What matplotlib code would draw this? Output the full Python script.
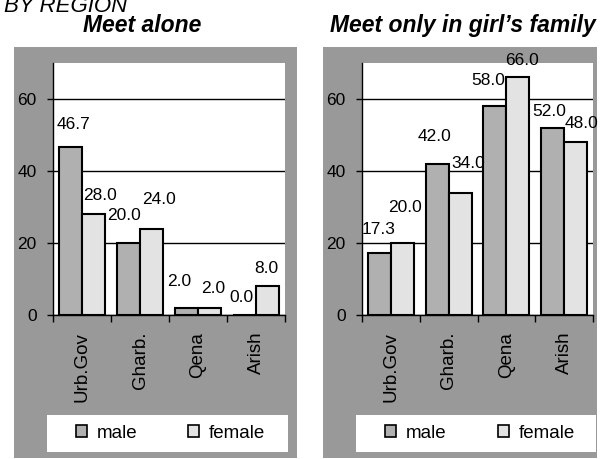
import matplotlib
matplotlib.use("Agg")
import matplotlib.pyplot as plt
from matplotlib.patches import Rectangle
import numpy as np

plt.rcParams['font.family'] = ['Liberation Sans', 'DejaVu Sans']

# Data
regions = ["Urb.Gov", "Gharb.", "Qena", "Arish"]
alone_male = [46.7, 20.0, 2.0, 0.0]
alone_female = [28.0, 24.0, 2.0, 8.0]
family_male = [17.3, 42.0, 58.0, 52.0]
family_female = [20.0, 34.0, 66.0, 48.0]
titles = ["Meet alone", "Meet only in girl\u2019s family"]
series_names = ["male", "female"]
yticks = [0, 20, 40, 60]

# label nudges (px) relative to the centre of each bar top, as drawn in the reference
alone_nudge_male = [(3, 22), (-4, 27), (-7, 26), (-3, 18)]
alone_nudge_female = [(6, 19), (7, 29), (4, 19), (-1, 18)]
family_nudge_male = [(-1, 23), (-3, 27), (-7, 26), (-3, 16)]
family_nudge_female = [(3, 36), (8, 29), (4, 17), (6, 19)]

W, H = 601, 459
MALE_C = "#b0b0b0"
FEMALE_C = "#e3e3e3"
PANEL_C = "#999999"

fig = plt.figure(figsize=(W / 100, H / 100), dpi=100)
fig.patch.set_facecolor("white")


def px_rect(x0, y0, x1, y1):
    # pixel box (top-left origin) -> figure fraction [l, b, w, h]
    return [x0 / W, 1 - y1 / H, (x1 - x0) / W, (y1 - y0) / H]


def px_box(x0, y0, x1, y1, color, z):
    l, b, w, h = px_rect(x0, y0, x1, y1)
    fig.patches.append(Rectangle((l, b), w, h, transform=fig.transFigure,
                                 facecolor=color, edgecolor="none", zorder=z))


# header partially cropped at top
fig.text(127 / W, 1 - 12 / H, "BY REGION", ha="right", va="baseline",
         fontsize=16, style="italic")

panels = [
    dict(bg=(14, 47, 297, 458), ax=(53, 63, 285, 315), leg=(47, 415, 288, 452),
         leg_c=170.5, title_x=142, male=alone_male, female=alone_female,
         nm=alone_nudge_male, nf=alone_nudge_female),
    dict(bg=(323, 47, 597, 458), ax=(362, 63, 593, 315), leg=(356, 415, 596, 452),
         leg_c=480, title_x=463, male=family_male, female=family_female,
         nm=family_nudge_male, nf=family_nudge_female),
]

for p, title in zip(panels, titles):
    px_box(*p["bg"], PANEL_C, -5)
    px_box(*p["leg"], "white", -4)
    fig.text(p["title_x"] / W, 1 - 32 / H, title, ha="center", va="baseline",
             fontsize=16.5, fontweight="bold", style="italic")

    ax = fig.add_axes(px_rect(*p["ax"]))
    ax.set_zorder(1)
    ax.set_facecolor("white")
    x = np.arange(len(regions))
    bw = 0.4
    bm = ax.bar(x - bw / 2, p["male"], bw, color=MALE_C, edgecolor="black",
                linewidth=1.5, zorder=3, label=series_names[0])
    bf = ax.bar(x + bw / 2, p["female"], bw, color=FEMALE_C, edgecolor="black",
                linewidth=1.5, zorder=3, label=series_names[1])

    for bars, vals, nudges in ((bm, p["male"], p["nm"]), (bf, p["female"], p["nf"])):
        for rect, v, (dx, dy) in zip(bars, vals, nudges):
            ax.annotate(f"{v:.1f}", (rect.get_x() + rect.get_width() / 2, v),
                        xytext=(dx * 0.72, dy * 0.72), textcoords="offset points",
                        ha="center", va="center", fontsize=12.5, zorder=4,
                        annotation_clip=False)

    ax.set_xlim(-0.5, len(regions) - 0.5)
    ax.set_ylim(0, 70)
    ax.set_yticks(yticks)
    ax.yaxis.grid(True, color="black", linewidth=1)
    ax.set_axisbelow(True)
    ax.tick_params(axis="y", length=4.3, width=1, pad=7.5, labelsize=12.5, direction="out")
    ax.set_xticks(np.arange(len(regions) + 1) - 0.5)
    ax.set_xticklabels([])
    ax.tick_params(axis="x", which="major", length=5, width=1, direction="out")
    ax.set_xticks(x, minor=True)
    ax.set_xticklabels(regions, minor=True, rotation=90, fontsize=13.5, va="top")
    ax.tick_params(axis="x", which="minor", length=0, pad=12)
    for s in ("top", "right"):
        ax.spines[s].set_visible(False)
    for s in ("left", "bottom"):
        ax.spines[s].set_linewidth(1)

    leg = fig.legend(handles=[bm, bf], labels=series_names, loc="center",
                     bbox_to_anchor=(p["leg_c"] / W, 1 - 433 / H),
                     bbox_transform=fig.transFigure, ncol=2, fontsize=13.5,
                     frameon=False, handlelength=0.6, handleheight=0.6,
                     handletextpad=0.53, columnspacing=2.7,
                     borderaxespad=0, borderpad=0)
    leg.set_zorder(2)
    for hnd in leg.legend_handles:
        hnd.set_linewidth(1.2)

fig.savefig("out.png", dpi=100)
